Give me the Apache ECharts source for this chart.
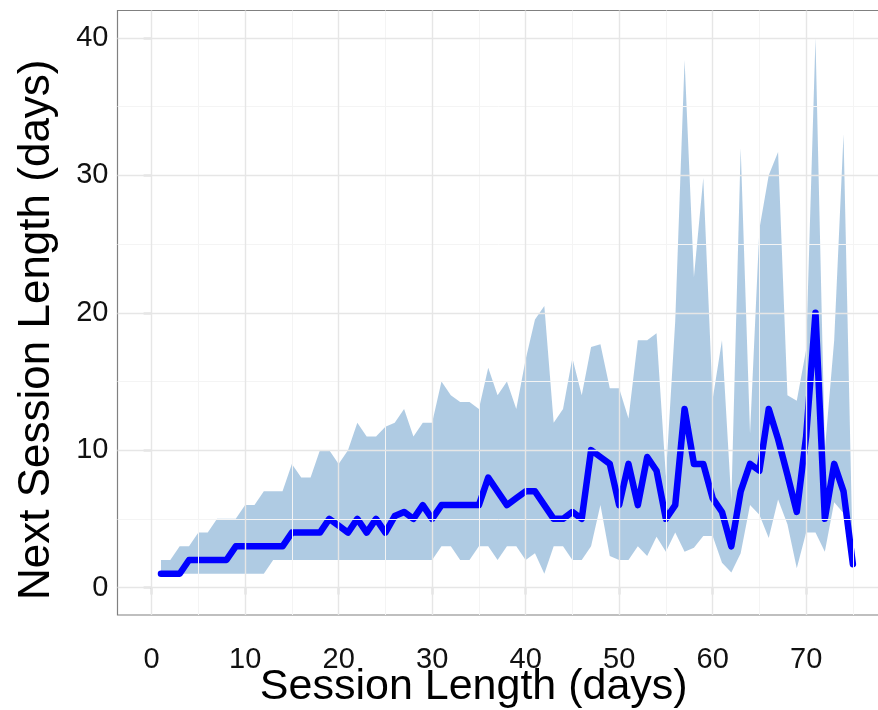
<!DOCTYPE html>
<html>
<head>
<meta charset="utf-8">
<script src="https://cdn.jsdelivr.net/npm/echarts@6/dist/echarts.min.js"></script>
<style>
  html, body { margin: 0; padding: 0; background: #ffffff; }
  #chart { width: 878px; height: 710px; }
</style>
</head>
<body>
<div id="chart"></div>
<script>
// Session length (days) on the x axis
const sessionLength = [1,2,3,4,5,6,7,8,9,10,11,12,13,14,15,16,17,18,19,20,
  21,22,23,24,25,26,27,28,29,30,31,32,33,34,35,36,37,38,39,40,
  41,42,43,44,45,46,47,48,49,50,51,52,53,54,55,56,57,58,59,60,
  61,62,63,64,65,66,67,68,69,70,71,72,73,74,75];

// Median next session length
const medianValues = [1,1,1,2,2,2,2,2,3,3,3,3,3,3,4,4,4,4,5,4.5,
  4,5,4,5,4,5.2,5.5,5,6,5,6,6,6,6,6,8,7,6,6.5,7,
  7,6,5,5,5.5,5,10,9.5,9,6,9,6,9.5,8.5,5,6,13,9,9,6.5,
  5.5,3,7,9,8.5,13,10.8,8.2,5.5,11,20,5,9,7,1.7];

// Lower bound of the shaded band
const lowerValues = [1,1,1,1,1,1,1,1,1,1,1,1,2,2,2,2,2,2,2,2,
  2,2,2,2,2,2,2,2,2,2,3,3,2,2,3,3,2,3,3,2,
  2.5,1,3,3,2,2,3,6,2.3,2,2,3,2.3,3.7,2.6,4,2.6,2.9,3.75,3.75,
  1.8,1.1,2.5,6,5.3,3.6,6.4,4.6,1.4,4,4,2.6,6.2,5.4,1.7];

// Upper bound of the shaded band
const upperValues = [2,2,3,3,4,4,5,5,5,6,6,7,7,7,9,8,8,10,10,9,
  10,12,11,11,11.7,12,13,11,12,12,15,14,13.5,13.5,13,16,14,15,13,16.6,
  19.5,20.5,12,13,16.7,14,17.5,17.7,14.5,14.5,12.3,18,18,18.5,8.1,19.4,38.4,22.6,29.8,13.7,
  18,6.3,32,11.2,26.1,30,31.7,14,13.6,17.3,40,10,18,33,1.7];

// Axis ticks and grid positions
const xTicks = [0,10,20,30,40,50,60,70];
const yTicks = [0,10,20,30,40];
const xMinorGrid = [5,15,25,35,45,55,65,75];
const yMinorGrid = [5,15,25,35];

const medianData = sessionLength.map((x, i) => [x, medianValues[i]]);

const FONT = 'Liberation Sans, Arial, Helvetica, sans-serif';

const gridLines = [];
xMinorGrid.forEach(v => gridLines.push({ xAxis: v, lineStyle: { color: '#f4f4f4', width: 1, type: 'solid' } }));
yMinorGrid.forEach(v => gridLines.push({ yAxis: v, lineStyle: { color: '#f4f4f4', width: 1, type: 'solid' } }));
xTicks.forEach(v => gridLines.push({ xAxis: v, lineStyle: { color: '#e6e6e6', width: 1.4, type: 'solid' } }));
yTicks.forEach(v => gridLines.push({ yAxis: v, lineStyle: { color: '#e6e6e6', width: 1.4, type: 'solid' } }));

function renderBand(params, api) {
  if (params.dataIndex !== 0) return null;
  const pts = [];
  for (let i = 0; i < sessionLength.length; i++) {
    pts.push(api.coord([sessionLength[i], upperValues[i]]));
  }
  for (let i = sessionLength.length - 1; i >= 0; i--) {
    pts.push(api.coord([sessionLength[i], lowerValues[i]]));
  }
  return {
    type: 'polygon',
    shape: { points: pts },
    style: { fill: 'rgba(70,135,190,0.43)', stroke: null }
  };
}

const chart = echarts.init(document.getElementById('chart'), null, { renderer: 'canvas' });

chart.setOption({
  animation: false,
  backgroundColor: '#ffffff',
  grid: {
    left: 117.5, right: -2, top: 10.5, bottom: 95,
    containLabel: false, outerBoundsMode: 'none',
    show: true, borderColor: '#808080', borderWidth: 1.2, backgroundColor: 'transparent'
  },
  xAxis: {
    type: 'value', min: -3.65, max: 77.9,
    name: 'Session Length (days)', nameLocation: 'middle', nameGap: 51, nameMoveOverlap: false,
    nameTextStyle: { fontSize: 43, color: '#000', fontFamily: FONT, padding: [0, 50, 0, 0] },
    axisLine: { show: false },
    axisTick: { show: true, length: 7, lineStyle: { color: '#333', width: 1.2 }, customValues: xTicks },
    axisLabel: { fontSize: 29, color: '#111', fontFamily: FONT, margin: 30, customValues: xTicks },
    splitLine: { show: false }
  },
  yAxis: {
    type: 'value', min: -2, max: 42,
    name: 'Next Session Length (days)', nameLocation: 'middle', nameGap: 59, nameRotate: 90, nameMoveOverlap: false,
    nameTextStyle: { fontSize: 44, color: '#000', fontFamily: FONT, padding: [0, 34, 0, 0] },
    axisLine: { show: false },
    axisTick: { show: true, length: 8, lineStyle: { color: '#333', width: 1.2 }, customValues: yTicks },
    axisLabel: { fontSize: 29, color: '#111', fontFamily: FONT, margin: 9, customValues: yTicks },
    splitLine: { show: false }
  },
  series: [
    {
      type: 'line', name: 'grid', data: [], z: 0, silent: true,
      markLine: { silent: true, symbol: 'none', label: { show: false }, animation: false, data: gridLines }
    },
    {
      type: 'custom', name: 'band', z: 1, silent: true, clip: true,
      data: [[sessionLength[0], lowerValues[0]]],
      renderItem: renderBand
    },
    {
      type: 'line', name: 'median', data: medianData, z: 3,
      symbol: 'none', silent: true,
      lineStyle: { color: '#0000ff', width: 6.5, cap: 'round', join: 'round' }
    }
  ]
});
</script>
</body>
</html>
